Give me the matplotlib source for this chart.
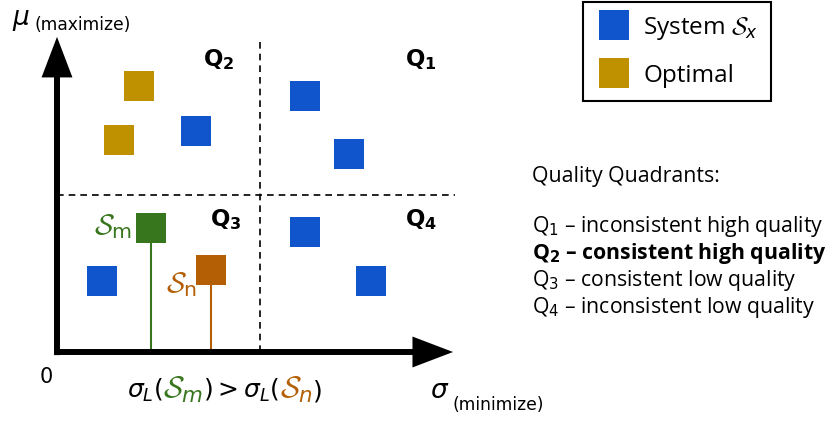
import matplotlib
matplotlib.use("Agg")
import matplotlib.pyplot as plt

# ------------------------------------------------------------------
# data (sigma = x, mu = y, both on a 0..10 scale)
# ------------------------------------------------------------------
sys_sigma = [3.49, 6.24, 7.34, 6.23, 7.89, 1.14]
sys_mu    = [7.08, 8.22, 6.35, 3.85, 2.28, 2.26]
opt_sigma = [2.07, 1.56]
opt_mu    = [8.54, 6.79]
sm_point  = (2.35, 3.99)      # system S_m
sn_point  = (3.88, 2.64)      # system S_n
mid_sigma, mid_mu = 5.1, 5.03
quad_lines = ["inconsistent high quality", "consistent high quality",
              "consistent low quality", "inconsistent low quality"]

BLUE, GOLD, GREEN, ORANGE = "#1155cc", "#bf9000", "#38761d", "#b45f06"

plt.rcParams['mathtext.fontset'] = 'custom'
plt.rcParams['mathtext.rm'] = 'DejaVu Sans'
plt.rcParams['mathtext.it'] = 'DejaVu Sans:italic'
plt.rcParams['mathtext.bf'] = 'DejaVu Sans:bold'
plt.rcParams['mathtext.cal'] = 'cmsy10'
plt.rcParams['font.family'] = ['DejaVu Sans']
TXT = 'Open Sans'

W, H = 833, 422
fig = plt.figure(figsize=(W/100, H/100), dpi=100)
ax = fig.add_axes([57/W, 1-352/H, 398/W, 312/H])
ax.set_xlim(0, 10); ax.set_ylim(0, 10)
ax.axis('off')

# axes arrows
arw = dict(arrowstyle='-|>,head_length=2.1,head_width=0.8', lw=4.3, color='k',
           shrinkA=0, shrinkB=0, capstyle='butt', joinstyle='miter')
ax.annotate('', xy=(0, 10.1), xytext=(0, -0.1), arrowprops=arw, annotation_clip=False)
ax.annotate('', xy=(9.95, 0), xytext=(-0.075, 0), arrowprops=arw, annotation_clip=False)

# quadrant split
ax.plot([mid_sigma, mid_sigma], [0, 10], ls=(0, (4, 3)), color='k', lw=1.2, clip_on=False)
ax.plot([0, 10], [mid_mu, mid_mu], ls=(0, (4, 3)), color='k', lw=1.2, clip_on=False)

# stems for S_m and S_n
ax.plot([sm_point[0]]*2, [0, sm_point[1]], color=GREEN, lw=1.5, zorder=2)
ax.plot([sn_point[0]]*2, [0, sn_point[1]], color=ORANGE, lw=1.5, zorder=2)

ms = 22.3
h_sys, = ax.plot(sys_sigma, sys_mu, 's', color=BLUE, ms=ms, mew=0, ls='', zorder=3)
h_opt, = ax.plot(opt_sigma, opt_mu, 's', color=GOLD, ms=ms, mew=0, ls='', zorder=3)
ax.plot(*sm_point, 's', color=GREEN, ms=ms, mew=0, zorder=3)
ax.plot(*sn_point, 's', color=ORANGE, ms=ms, mew=0, zorder=3)

ax.annotate(r'$\mathcal{S}_\mathrm{m}$', xy=sm_point, xytext=(-13, 1), textcoords='offset points',
            ha='right', va='center', color=GREEN, fontsize=21)
ax.annotate(r'$\mathcal{S}_\mathrm{n}$', xy=sn_point, xytext=(-10, -11), textcoords='offset points',
            ha='right', va='center', color=ORANGE, fontsize=21)

# quadrant labels
for q, (x, y) in zip(['1', '2', '3', '4'], [(8.74, 9.76), (3.67, 9.76), (3.84, 4.64), (8.74, 4.64)]):
    ax.text(x, y, 'Q$_\\mathbf{%s}$' % q, fontsize=16.5, fontweight='bold', ha='left', va='top')

# axis labels
fig.text(12/W, 1-25/H, r'$\mu$', fontsize=19)
fig.text(35/W, 1-30/H, '(maximize)', fontsize=12.3)
fig.text(430/W, 1-398/H, r'$\sigma$', fontsize=19)
fig.text(453/W, 1-410/H, '(minimize)', fontsize=12.3)
fig.text(40/W, 1-383/H, '0', fontsize=15)

# multi colour expression under the x axis
renderer = fig.canvas.get_renderer()
parts = [(r'$\sigma_L($', 'k', 18), (r'$\mathcal{S}_m$', GREEN, 22), (r'$)>\sigma_L($', 'k', 18),
         (r'$\mathcal{S}_n$', ORANGE, 22), (r'$)$', 'k', 18)]
x = 127
for s, c, fs in parts:
    t = fig.text(x/W, 1-398/H, s, color=c, fontsize=fs, va='baseline', ha='left')
    x += t.get_window_extent(renderer).width

# legend
fig.legend([h_sys, h_opt], [r'System $\mathcal{S}_x$', 'Optimal'], loc='upper left',
           bbox_to_anchor=(583/W, 1-2/H), borderaxespad=0, fancybox=False,
           edgecolor='k', framealpha=1, prop={'family': TXT, 'size': 17.5},
           handlelength=1.5, handletextpad=0.45, borderpad=0.53, labelspacing=0.9)
fig.legends[0].get_frame().set_linewidth(1.5)

# quadrant description
fig.text(532/W, 1-182/H, 'Quality Quadrants:', fontsize=15.3, family=TXT)
for i, line in enumerate(quad_lines):
    bold = 'bold' if i == 1 else 'normal'
    sub = r'$_\mathbf{%d}$' % (i+1) if i == 1 else r'$_%d$' % (i+1)
    fig.text(532/W, 1-(232+27*i)/H, 'Q' + sub + ' – ' + line, fontsize=15.3,
             family=TXT, fontweight=bold)

fig.savefig('out.png', dpi=100)
